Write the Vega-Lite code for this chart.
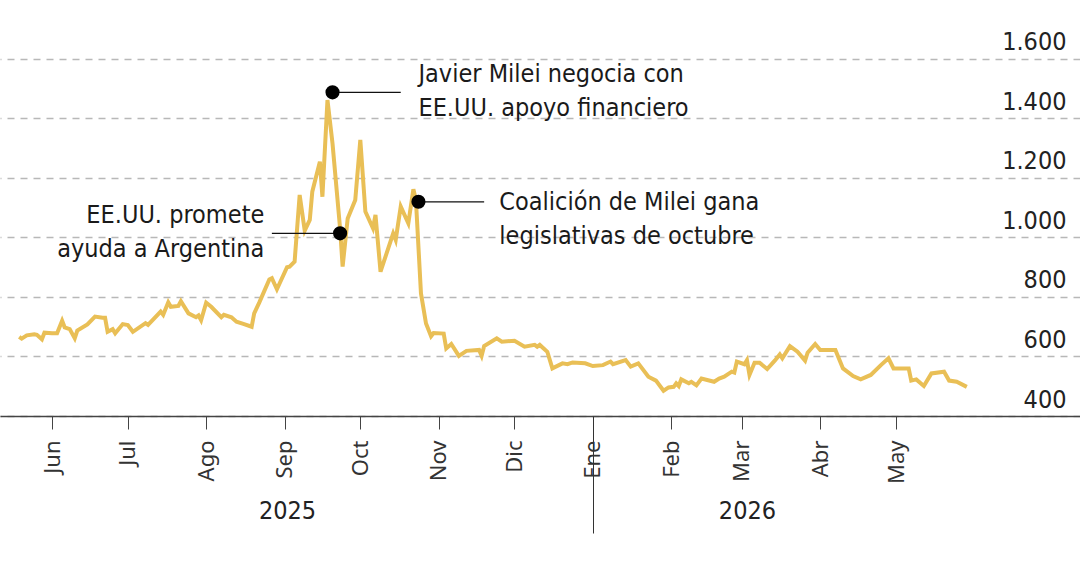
{
  "$schema": "https://vega.github.io/schema/vega-lite/v6.json",
  "width": 1080,
  "height": 416,
  "autosize": {"type": "none"},
  "padding": {"left": 0, "top": 0, "right": 0, "bottom": 151},
  "background": "white",
  "config": {
    "view": {"stroke": null},
    "font": "'DejaVu Sans Condensed', sans-serif"
  },
  "datasets": {
    "riesgo": [
      {"date": "2025-05-19", "value": 666}, {"date": "2025-05-20", "value": 660},
      {"date": "2025-05-22", "value": 671}, {"date": "2025-05-25", "value": 675},
      {"date": "2025-05-26", "value": 673}, {"date": "2025-05-28", "value": 658},
      {"date": "2025-05-29", "value": 680}, {"date": "2025-06-01", "value": 678},
      {"date": "2025-06-03", "value": 678}, {"date": "2025-06-05", "value": 720},
      {"date": "2025-06-06", "value": 698}, {"date": "2025-06-08", "value": 692},
      {"date": "2025-06-10", "value": 661}, {"date": "2025-06-11", "value": 687},
      {"date": "2025-06-15", "value": 708}, {"date": "2025-06-18", "value": 734},
      {"date": "2025-06-21", "value": 730}, {"date": "2025-06-22", "value": 730},
      {"date": "2025-06-23", "value": 683}, {"date": "2025-06-25", "value": 692},
      {"date": "2025-06-26", "value": 678}, {"date": "2025-06-29", "value": 709},
      {"date": "2025-07-01", "value": 706}, {"date": "2025-07-03", "value": 683},
      {"date": "2025-07-08", "value": 712}, {"date": "2025-07-09", "value": 706},
      {"date": "2025-07-14", "value": 751}, {"date": "2025-07-15", "value": 740},
      {"date": "2025-07-17", "value": 782}, {"date": "2025-07-18", "value": 767},
      {"date": "2025-07-21", "value": 770}, {"date": "2025-07-22", "value": 786},
      {"date": "2025-07-25", "value": 745}, {"date": "2025-07-28", "value": 732},
      {"date": "2025-07-29", "value": 738}, {"date": "2025-07-30", "value": 722},
      {"date": "2025-08-01", "value": 781}, {"date": "2025-08-03", "value": 767},
      {"date": "2025-08-07", "value": 732}, {"date": "2025-08-08", "value": 740},
      {"date": "2025-08-11", "value": 732}, {"date": "2025-08-13", "value": 717},
      {"date": "2025-08-16", "value": 709}, {"date": "2025-08-19", "value": 700},
      {"date": "2025-08-20", "value": 745}, {"date": "2025-08-22", "value": 781},
      {"date": "2025-08-26", "value": 859}, {"date": "2025-08-27", "value": 863},
      {"date": "2025-08-29", "value": 826}, {"date": "2025-09-02", "value": 900},
      {"date": "2025-09-03", "value": 902}, {"date": "2025-09-05", "value": 919},
      {"date": "2025-09-07", "value": 1143}, {"date": "2025-09-09", "value": 1023},
      {"date": "2025-09-11", "value": 1059}, {"date": "2025-09-12", "value": 1154},
      {"date": "2025-09-15", "value": 1255}, {"date": "2025-09-16", "value": 1137},
      {"date": "2025-09-18", "value": 1462}, {"date": "2025-09-20", "value": 1316},
      {"date": "2025-09-23", "value": 1030}, {"date": "2025-09-24", "value": 902},
      {"date": "2025-09-26", "value": 1064}, {"date": "2025-09-29", "value": 1126},
      {"date": "2025-10-01", "value": 1328}, {"date": "2025-10-03", "value": 1087},
      {"date": "2025-10-06", "value": 1031}, {"date": "2025-10-07", "value": 1076},
      {"date": "2025-10-09", "value": 885}, {"date": "2025-10-14", "value": 1014},
      {"date": "2025-10-15", "value": 992}, {"date": "2025-10-17", "value": 1104},
      {"date": "2025-10-20", "value": 1048}, {"date": "2025-10-22", "value": 1162},
      {"date": "2025-10-23", "value": 1126}, {"date": "2025-10-25", "value": 812},
      {"date": "2025-10-27", "value": 711}, {"date": "2025-10-29", "value": 668},
      {"date": "2025-10-30", "value": 679}, {"date": "2025-11-03", "value": 677},
      {"date": "2025-11-04", "value": 627}, {"date": "2025-11-06", "value": 642},
      {"date": "2025-11-09", "value": 602}, {"date": "2025-11-12", "value": 619},
      {"date": "2025-11-17", "value": 622}, {"date": "2025-11-18", "value": 602},
      {"date": "2025-11-19", "value": 635}, {"date": "2025-11-24", "value": 661},
      {"date": "2025-11-26", "value": 650}, {"date": "2025-12-01", "value": 653},
      {"date": "2025-12-05", "value": 633}, {"date": "2025-12-09", "value": 639},
      {"date": "2025-12-10", "value": 633}, {"date": "2025-12-11", "value": 639},
      {"date": "2025-12-14", "value": 616}, {"date": "2025-12-16", "value": 560},
      {"date": "2025-12-20", "value": 577}, {"date": "2025-12-22", "value": 574},
      {"date": "2025-12-24", "value": 580}, {"date": "2025-12-29", "value": 577},
      {"date": "2026-01-01", "value": 568}, {"date": "2026-01-05", "value": 571},
      {"date": "2026-01-08", "value": 583}, {"date": "2026-01-09", "value": 574},
      {"date": "2026-01-14", "value": 588}, {"date": "2026-01-16", "value": 566},
      {"date": "2026-01-19", "value": 577}, {"date": "2026-01-23", "value": 532},
      {"date": "2026-01-26", "value": 519}, {"date": "2026-01-29", "value": 485},
      {"date": "2026-01-31", "value": 496}, {"date": "2026-02-02", "value": 498},
      {"date": "2026-02-03", "value": 510}, {"date": "2026-02-04", "value": 501},
      {"date": "2026-02-05", "value": 523}, {"date": "2026-02-08", "value": 510},
      {"date": "2026-02-09", "value": 515}, {"date": "2026-02-11", "value": 503},
      {"date": "2026-02-13", "value": 526}, {"date": "2026-02-18", "value": 515},
      {"date": "2026-02-20", "value": 526}, {"date": "2026-02-22", "value": 532},
      {"date": "2026-02-25", "value": 549}, {"date": "2026-02-26", "value": 546},
      {"date": "2026-02-27", "value": 583}, {"date": "2026-03-02", "value": 574},
      {"date": "2026-03-03", "value": 588}, {"date": "2026-03-04", "value": 538},
      {"date": "2026-03-06", "value": 579}, {"date": "2026-03-08", "value": 579},
      {"date": "2026-03-11", "value": 558}, {"date": "2026-03-14", "value": 586},
      {"date": "2026-03-16", "value": 607}, {"date": "2026-03-17", "value": 594},
      {"date": "2026-03-20", "value": 635}, {"date": "2026-03-23", "value": 616},
      {"date": "2026-03-26", "value": 586}, {"date": "2026-03-27", "value": 613},
      {"date": "2026-03-30", "value": 642}, {"date": "2026-04-01", "value": 622},
      {"date": "2026-04-07", "value": 622}, {"date": "2026-04-10", "value": 560},
      {"date": "2026-04-14", "value": 534}, {"date": "2026-04-17", "value": 523},
      {"date": "2026-04-21", "value": 538}, {"date": "2026-04-25", "value": 571},
      {"date": "2026-04-28", "value": 594}, {"date": "2026-04-30", "value": 560},
      {"date": "2026-05-06", "value": 560}, {"date": "2026-05-07", "value": 519},
      {"date": "2026-05-09", "value": 523}, {"date": "2026-05-12", "value": 501},
      {"date": "2026-05-15", "value": 543}, {"date": "2026-05-20", "value": 549},
      {"date": "2026-05-22", "value": 519}, {"date": "2026-05-25", "value": 515},
      {"date": "2026-05-29", "value": 498}
    ],
    "hitos": [
      {"date": "2025-09-20", "value": 1488, "end": "2025-10-17", "textDate": "2025-10-24", "textValue": 1550, "side": "right", "label": "Javier Milei negocia con\nEE.UU. apoyo financiero"},
      {"date": "2025-09-23", "value": 1014, "end": "2025-08-27", "textDate": "2025-08-24", "textValue": 1076, "side": "left", "label": "EE.UU. promete\nayuda a Argentina"},
      {"date": "2025-10-24", "value": 1120, "end": "2025-11-19", "textDate": "2025-11-25", "textValue": 1120, "side": "right", "label": "Coalición de Milei gana\nlegislativas de octubre"}
    ]
  },
  "resolve": {"axis": {"x": "independent"}},
  "layer": [
    {
      "data": {"name": "riesgo"},
      "mark": {"type": "line", "color": "#e9bf56", "strokeWidth": 4, "strokeJoin": "miter", "clip": false},
      "encoding": {
        "x": {
          "field": "date", "type": "temporal",
          "scale": {"domain": [
            {"year": 2025, "month": 5, "date": 11, "hours": 10, "utc": true},
            {"year": 2026, "month": 7, "date": 12, "hours": 19, "utc": true}
          ]},
          "axis": {
            "orient": "bottom",
            "title": null,
            "grid": false,
            "values": [
              {"year": 2025, "month": 6, "date": 1, "utc": true},
              {"year": 2025, "month": 7, "date": 1, "utc": true},
              {"year": 2025, "month": 8, "date": 1, "utc": true},
              {"year": 2025, "month": 9, "date": 1, "utc": true},
              {"year": 2025, "month": 10, "date": 1, "utc": true},
              {"year": 2025, "month": 11, "date": 1, "utc": true},
              {"year": 2025, "month": 12, "date": 1, "utc": true},
              {"year": 2026, "month": 1, "date": 1, "utc": true},
              {"year": 2026, "month": 2, "date": 1, "utc": true},
              {"year": 2026, "month": 3, "date": 1, "utc": true},
              {"year": 2026, "month": 4, "date": 1, "utc": true},
              {"year": 2026, "month": 5, "date": 1, "utc": true}
            ],
            "labelExpr": "['Ene','Feb','Mar','Abr','May','Jun','Jul','Ago','Sep','Oct','Nov','Dic'][utcmonth(datum.value)]",
            "labelAngle": 270,
            "labelAlign": "right",
            "labelBaseline": "middle",
            "labelFont": "Noto Sans",
            "labelFontSize": 22,
            "labelColor": "#333333",
            "labelPadding": 11,
            "labelOverlap": false,
            "labelFlush": false,
            "tickSize": 13,
            "tickColor": "#444444",
            "tickWidth": 1,
            "domainColor": "#444444",
            "domainWidth": 1.5
          }
        },
        "y": {
          "field": "value", "type": "quantitative",
          "scale": {"domain": [400, 1798.3], "nice": false, "zero": false},
          "axis": {
            "orient": "right",
            "title": null,
            "values": [400, 600, 800, 1000, 1200, 1400, 1600],
            "labelExpr": "replace(format(datum.value, ','), ',', '.')",
            "domain": false,
            "ticks": false,
            "tickSize": 0,
            "labelAlign": "right",
            "labelBaseline": "alphabetic",
            "labelPadding": -14,
            "labelOffset": -9,
            "labelFontSize": 25,
            "labelColor": "#222222",
            "grid": true,
            "gridColor": "#b8b8b8",
            "gridDash": [7, 6],
            "gridWidth": 1.5
          }
        }
      }
    },
    {
      "data": {"name": "hitos"},
      "mark": {"type": "rule", "color": "#111111", "strokeWidth": 1.2},
      "encoding": {
        "x": {"field": "date", "type": "temporal", "axis": null},
        "x2": {"field": "end"},
        "y": {"field": "value", "type": "quantitative"}
      }
    },
    {
      "data": {"name": "hitos"},
      "mark": {"type": "point", "filled": true, "color": "#000000", "size": 200, "opacity": 1},
      "encoding": {
        "x": {
          "field": "date", "type": "temporal",
          "axis": {
            "orient": "bottom",
            "title": null,
            "grid": false,
            "domain": false,
            "values": [
              {"year": 2025, "month": 9, "date": 2, "utc": true},
              {"year": 2026, "month": 1, "date": 1, "utc": true},
              {"year": 2026, "month": 3, "date": 3, "utc": true}
            ],
            "labelExpr": "utcmonth(datum.value) == 0 && utcdate(datum.value) == 1 ? '' : utcFormat(datum.value, '%Y')",
            "labelAngle": 0,
            "labelAlign": "center",
            "labelBaseline": "middle",
            "labelFontSize": 25,
            "labelColor": "#222222",
            "labelPadding": -23,
            "labelOverlap": false,
            "labelFlush": false,
            "tickSize": 117,
            "tickWidth": 1,
            "tickColor": {"condition": {"test": "utcmonth(datum.value) == 0 && utcdate(datum.value) == 1", "value": "#333333"}, "value": "transparent"}
          }
        },
        "y": {"field": "value", "type": "quantitative"}
      }
    },
    {
      "data": {"name": "hitos"},
      "transform": [{"filter": "datum.side == 'right'"}],
      "mark": {"type": "text", "align": "left", "baseline": "middle", "lineBreak": "\n", "lineHeight": 34, "fontSize": 25, "color": "#1a1a1a"},
      "encoding": {
        "x": {"field": "textDate", "type": "temporal", "axis": null},
        "y": {"field": "textValue", "type": "quantitative"},
        "text": {"field": "label"}
      }
    },
    {
      "data": {"name": "hitos"},
      "transform": [{"filter": "datum.side == 'left'"}],
      "mark": {"type": "text", "align": "right", "baseline": "middle", "lineBreak": "\n", "lineHeight": 34, "fontSize": 25, "color": "#1a1a1a"},
      "encoding": {
        "x": {"field": "textDate", "type": "temporal", "axis": null},
        "y": {"field": "textValue", "type": "quantitative"},
        "text": {"field": "label"}
      }
    }
  ]
}
